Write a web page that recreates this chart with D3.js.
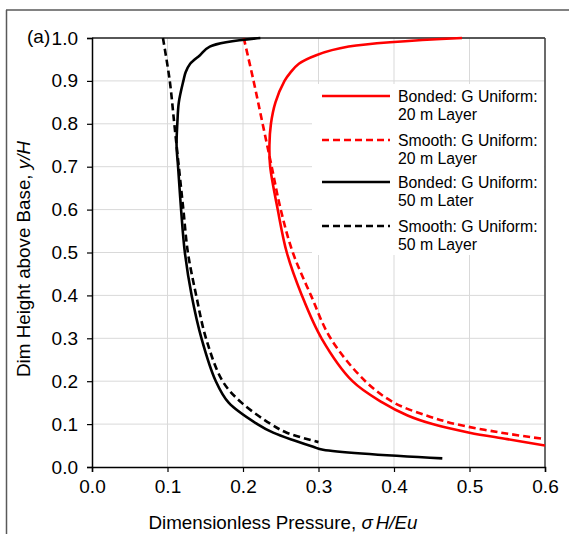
<!DOCTYPE html>
<html><head><meta charset="utf-8">
<script src="https://cdn.jsdelivr.net/npm/d3@7"></script>
<style>body{margin:0;background:#fff}svg{display:block;font-family:"Liberation Sans",Arial,sans-serif}</style>
</head><body><svg id="c" width="569" height="534"></svg>
<script>
// Data (x = dimensionless pressure, y = y/H)
const bonded20Y = [1.0,0.98,0.96,0.94,0.92,0.90,0.85,0.80,0.75,0.70,0.60,0.50,0.40,0.30,0.20,0.15,0.12,0.10,0.08,0.065,0.05];
const bonded20X = [0.49,0.34,0.297,0.274,0.263,0.255,0.243,0.237,0.235,0.236,0.246,0.258,0.278,0.304,0.345,0.385,0.418,0.451,0.50,0.55,0.60];
const smooth20Y = [1.0,0.9,0.8,0.7,0.6,0.5,0.4,0.3,0.2,0.15,0.12,0.1,0.08,0.065];
const smooth20X = [0.201,0.214,0.226,0.238,0.250,0.266,0.29,0.316,0.362,0.400,0.443,0.482,0.542,0.60];
const bonded50Y = [1.0,0.98,0.96,0.94,0.92,0.90,0.85,0.80,0.75,0.70,0.60,0.50,0.40,0.30,0.20,0.15,0.10,0.08,0.06,0.047,0.04,0.02];
const bonded50X = [0.223,0.156,0.143,0.130,0.124,0.121,0.115,0.113,0.112,0.114,0.118,0.123,0.132,0.145,0.164,0.181,0.219,0.240,0.271,0.293,0.306,0.464];
const smooth50Y = [1.0,0.9,0.8,0.7,0.6,0.5,0.4,0.3,0.2,0.15,0.1,0.08,0.058];
const smooth50X = [0.094,0.103,0.109,0.115,0.121,0.127,0.138,0.151,0.173,0.198,0.237,0.258,0.300];
const xTicks = [0,0.1,0.2,0.3,0.4,0.5,0.6];
const yTicks = [0,0.1,0.2,0.3,0.4,0.5,0.6,0.7,0.8,0.9,1.0];
const seriesNames = ["Bonded: G Uniform:|20 m Layer","Smooth: G Uniform:|20 m Layer","Bonded: G Uniform:|50 m Later","Smooth: G Uniform:|50 m Layer"];
const seriesColors = ["#ff0000","#ff0000","#000000","#000000"];
const seriesDash = [null,"7,4",null,"7,4"];

const svg = d3.select("#c");
const L=92,R=545,T=38,B=467;
const x = d3.scaleLinear().domain([0,0.6]).range([L,R]);
const y = d3.scaleLinear().domain([0,1]).range([B,T]);
const font = '"Liberation Sans",Arial,sans-serif';

// outer frame
svg.append("line").attr("x1",6).attr("x2",569).attr("y1",10).attr("y2",10).attr("stroke","#595959").attr("stroke-width",1.5);
svg.append("line").attr("x1",6.5).attr("x2",6.5).attr("y1",10).attr("y2",534).attr("stroke","#595959").attr("stroke-width",1.5);

// grid
svg.append("g").selectAll("line").data(xTicks.slice(1)).join("line")
  .attr("x1",d=>x(d)).attr("x2",d=>x(d)).attr("y1",T).attr("y2",B).attr("stroke","#d9d9d9").attr("stroke-width",1);
svg.append("g").selectAll("line").data(yTicks.slice(1)).join("line")
  .attr("x1",L).attr("x2",R).attr("y1",d=>y(d)).attr("y2",d=>y(d)).attr("stroke","#d9d9d9").attr("stroke-width",1);

// plot border top/right
svg.append("line").attr("x1",L).attr("x2",R).attr("y1",T).attr("y2",T).attr("stroke","#262626").attr("stroke-width",1.5);
svg.append("line").attr("x1",R).attr("x2",R).attr("y1",T).attr("y2",B).attr("stroke","#404040").attr("stroke-width",1.5);

// axes
const xAxis = svg.append("g").attr("transform",`translate(0,${B})`)
  .call(d3.axisBottom(x).tickValues(xTicks).tickFormat(d3.format(".1f")).tickSizeOuter(0).tickSize(5).tickPadding(8));
const yAxis = svg.append("g").attr("transform",`translate(${L},0)`)
  .call(d3.axisLeft(y).tickValues(yTicks).tickFormat(d3.format(".1f")).tickSizeOuter(0).tickSize(5).tickPadding(9));
[xAxis,yAxis].forEach(g=>{
  g.select(".domain").attr("stroke","#000").attr("stroke-width",1.5);
  g.selectAll(".tick line").attr("stroke","#000").attr("stroke-width",1.2);
  g.selectAll("text").attr("font-size",19).attr("font-family",font).attr("fill","#000");
});

// lines
const line = d3.line().x(d=>x(d[0])).y(d=>y(d[1])).curve(d3.curveCatmullRom.alpha(0.5));
const series = [
  d3.zip(bonded20X,bonded20Y), d3.zip(smooth20X,smooth20Y),
  d3.zip(bonded50X,bonded50Y), d3.zip(smooth50X,smooth50Y)
];
svg.append("clipPath").attr("id","cp").append("rect").attr("x",L).attr("y",T-2).attr("width",R-L).attr("height",B-T+2);
svg.append("g").attr("clip-path","url(#cp)").selectAll("path").data(series).join("path")
  .attr("d",line).attr("fill","none")
  .attr("stroke",(d,i)=>seriesColors[i]).attr("stroke-width",2.6)
  .attr("stroke-dasharray",(d,i)=>seriesDash[i]);

// legend
const lg = svg.append("g");
lg.append("rect").attr("x",312).attr("y",84).attr("width",R-312-1).attr("height",171).attr("fill","#fff");
const rowY = [96,140,182,226];
seriesNames.forEach((n,i)=>{
  lg.append("line").attr("x1",322).attr("x2",390).attr("y1",rowY[i]).attr("y2",rowY[i])
    .attr("stroke",seriesColors[i]).attr("stroke-width",2.6).attr("stroke-dasharray",seriesDash[i]);
  n.split("|").forEach((p,j)=>{
    lg.append("text").attr("x",398).attr("y",rowY[i]+j*18.5).attr("dy","0.35em")
      .attr("font-size",15.8).attr("font-family",font).text(p);
  });
});

// axis titles
const xt = svg.append("text").attr("x",283).attr("y",522).attr("dy","0.35em").attr("text-anchor","middle")
  .attr("font-size",18.8).attr("font-family",font);
xt.append("tspan").text("Dimensionless Pressure, ");
xt.append("tspan").attr("font-style","italic").text("σ");
xt.append("tspan").attr("font-style","italic").attr("dx",3).text("H/Eu");

const yt = svg.append("text").attr("transform",`translate(23,259) rotate(-90)`).attr("dy","0.35em").attr("text-anchor","middle")
  .attr("font-size",18.8).attr("font-family",font);
yt.append("tspan").text("Dim Height above Base, ");
yt.append("tspan").attr("font-style","italic").text("y/H");

svg.append("text").attr("x",27).attr("y",36).attr("dy","0.35em").attr("font-size",19).attr("font-family",font).text("(a)");
</script></body></html>
